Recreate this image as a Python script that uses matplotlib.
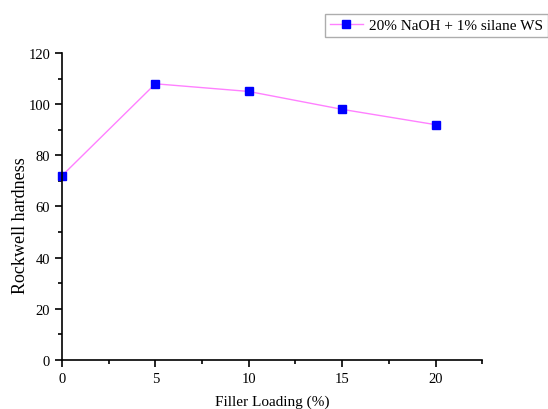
import matplotlib
matplotlib.use("Agg")
import matplotlib.pyplot as plt
from matplotlib.ticker import MultipleLocator

plt.rcParams['font.family'] = ['Liberation Serif', 'DejaVu Serif']

# filler loading (%) vs hardness
loading = [0, 5, 10, 15, 20]
hardness = [72, 108, 105, 98, 92]
series_label = "20% NaOH + 1% silane WS"

fig = plt.figure(figsize=(5.48, 4.10), dpi=100)
ax = fig.add_axes([0.113, 0.12, 0.767, 0.748])

ax.plot(loading, hardness, color='#ff80ff', lw=1.0, marker='s', ms=5.5,
        mfc='#0000ff', mec='#0000ff', label=series_label, clip_on=False)

ax.set_xlim(0, 22.5)
ax.set_ylim(0, 120)
ax.xaxis.set_major_locator(MultipleLocator(5))
ax.xaxis.set_minor_locator(MultipleLocator(2.5))
ax.yaxis.set_major_locator(MultipleLocator(20))
ax.yaxis.set_minor_locator(MultipleLocator(10))

for s in ['top', 'right']:
    ax.spines[s].set_visible(False)
for s in ['left', 'bottom']:
    ax.spines[s].set_linewidth(1.2)
ax.tick_params(which='major', direction='out', length=5, width=1.2, labelsize=10.5)
ax.tick_params(which='minor', direction='out', length=3, width=1.2)

ax.set_xlabel("Filler Loading (%)", fontsize=11)
ax.set_ylabel("Rockwell hardness", fontsize=13)
ax.xaxis.set_label_coords(0.5, -0.112)
ax.yaxis.set_label_coords(-0.078, 0.44)

leg = fig.legend(loc='upper right', bbox_to_anchor=(1.0, 0.963), fontsize=11,
                 frameon=True, fancybox=False, edgecolor='#999999',
                 borderpad=0.3, handlelength=2.2, handletextpad=0.4,
                 borderaxespad=0)
leg.get_frame().set_linewidth(1.0)

fig.savefig("out.png", dpi=100)
